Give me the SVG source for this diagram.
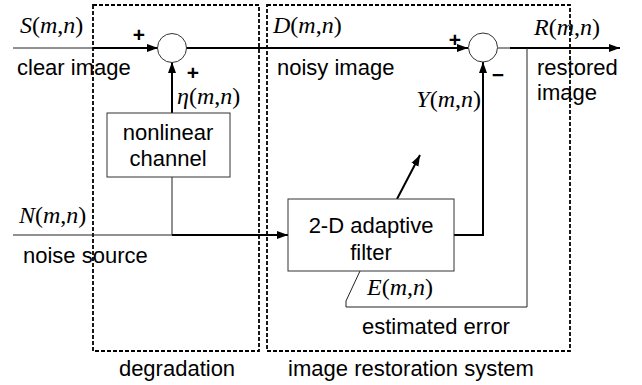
<svg xmlns="http://www.w3.org/2000/svg" width="642" height="385" viewBox="0 0 642 385">
<style>
.sans{font-family:"Liberation Sans",Arial,sans-serif;font-size:22px;fill:#000}
.math{font-family:"Liberation Serif","Times New Roman",serif;font-size:24px;fill:#000}
.it{font-style:italic}
.sign{font-family:"Liberation Sans",Arial,sans-serif;font-size:21px;font-weight:bold;fill:#000;text-anchor:middle}
.thick{stroke:#000;stroke-width:2;fill:none}
.thin{stroke:#222;stroke-width:1;fill:none}
.dash{stroke:#000;stroke-width:1.8;fill:none;stroke-dasharray:4 2}
.box{stroke:#333;stroke-width:1;fill:#fff}
.sum{stroke:#333;stroke-width:1;fill:#fff}
</style>
<defs>
<marker id="ah" markerUnits="userSpaceOnUse" markerWidth="12" markerHeight="10" refX="11" refY="5" orient="auto">
<path d="M0,1 L11,5 L0,9 Z" fill="#000"/>
</marker>
</defs>
<g id="regions">
<rect class="dash" x="93" y="5" width="166" height="346"/>
<rect class="dash" x="267" y="5" width="303" height="346"/>
<text class="sans" x="177" y="376" text-anchor="middle">degradation</text>
<text class="sans" x="411" y="376" text-anchor="middle">image restoration system</text>
</g>
<g id="connectors">
<line class="thin" x1="13" y1="48" x2="93" y2="48"/>
<line class="thick" x1="93" y1="48" x2="158" y2="48" marker-end="url(#ah)"/>
<line class="thick" x1="186" y1="48" x2="468" y2="48" marker-end="url(#ah)"/>
<line class="thick" x1="172" y1="113" x2="172" y2="62" marker-end="url(#ah)"/>
<line class="thin" x1="172" y1="177" x2="172" y2="235"/>
<line class="thin" x1="13" y1="235" x2="172" y2="235"/>
<line class="thick" x1="172" y1="235" x2="288" y2="235" marker-end="url(#ah)"/>
<polyline class="thick" points="454,235 483,235 483,62" marker-end="url(#ah)"/>
<line class="thin" x1="498" y1="48" x2="510" y2="48"/>
<line class="thick" x1="510" y1="48" x2="620" y2="48" marker-end="url(#ah)"/>
<polyline class="thin" points="527,48 527,307 346,307 346,301 360,271"/>
<line class="thick" x1="397" y1="199" x2="420" y2="155" marker-end="url(#ah)"/>
</g>
<g id="sum1">
<circle class="sum" cx="172" cy="48" r="14.5"/>
<text class="sign" x="139" y="42">+</text>
<text class="sign" x="193" y="80">+</text>
</g>
<g id="sum2">
<circle class="sum" cx="483" cy="47.5" r="14.5"/>
<text class="sign" x="455" y="47">+</text>
<text class="sign" x="498" y="82">−</text>
</g>
<g id="nonlinear-channel">
<rect class="box" x="107" y="113" width="123" height="64"/>
<text class="sans" x="168" y="140" text-anchor="middle">nonlinear</text>
<text class="sans" x="168" y="166" text-anchor="middle">channel</text>
</g>
<g id="adaptive-filter">
<rect class="box" x="288" y="199" width="166" height="72"/>
<text class="sans" x="371" y="233" text-anchor="middle">2-D adaptive</text>
<text class="sans" x="371" y="260" text-anchor="middle">filter</text>
</g>
<g id="labels">
<text class="math" x="20" y="33"><tspan class="it">S</tspan>(<tspan class="it">m</tspan>,<tspan class="it">n</tspan>)</text>
<text class="sans" x="17" y="75">clear image</text>
<text class="math" x="273" y="33"><tspan class="it">D</tspan>(<tspan class="it">m</tspan>,<tspan class="it">n</tspan>)</text>
<text class="sans" x="277" y="75">noisy image</text>
<text class="math" x="534" y="35"><tspan class="it">R</tspan>(<tspan class="it">m</tspan>,<tspan class="it">n</tspan>)</text>
<text class="sans" x="537" y="75">restored</text>
<text class="sans" x="537" y="100">image</text>
<text class="math" x="177" y="104"><tspan class="it">η</tspan>(<tspan class="it">m</tspan>,<tspan class="it">n</tspan>)</text>
<text class="math" x="481" y="107" text-anchor="end"><tspan class="it">Y</tspan>(<tspan class="it">m</tspan>,<tspan class="it">n</tspan>)</text>
<text class="math" x="19" y="223"><tspan class="it">N</tspan>(<tspan class="it">m</tspan>,<tspan class="it">n</tspan>)</text>
<text class="sans" x="23" y="263">noise source</text>
<text class="math" x="367" y="295"><tspan class="it">E</tspan>(<tspan class="it">m</tspan>,<tspan class="it">n</tspan>)</text>
<text class="sans" x="362" y="334">estimated error</text>
</g>
</svg>
